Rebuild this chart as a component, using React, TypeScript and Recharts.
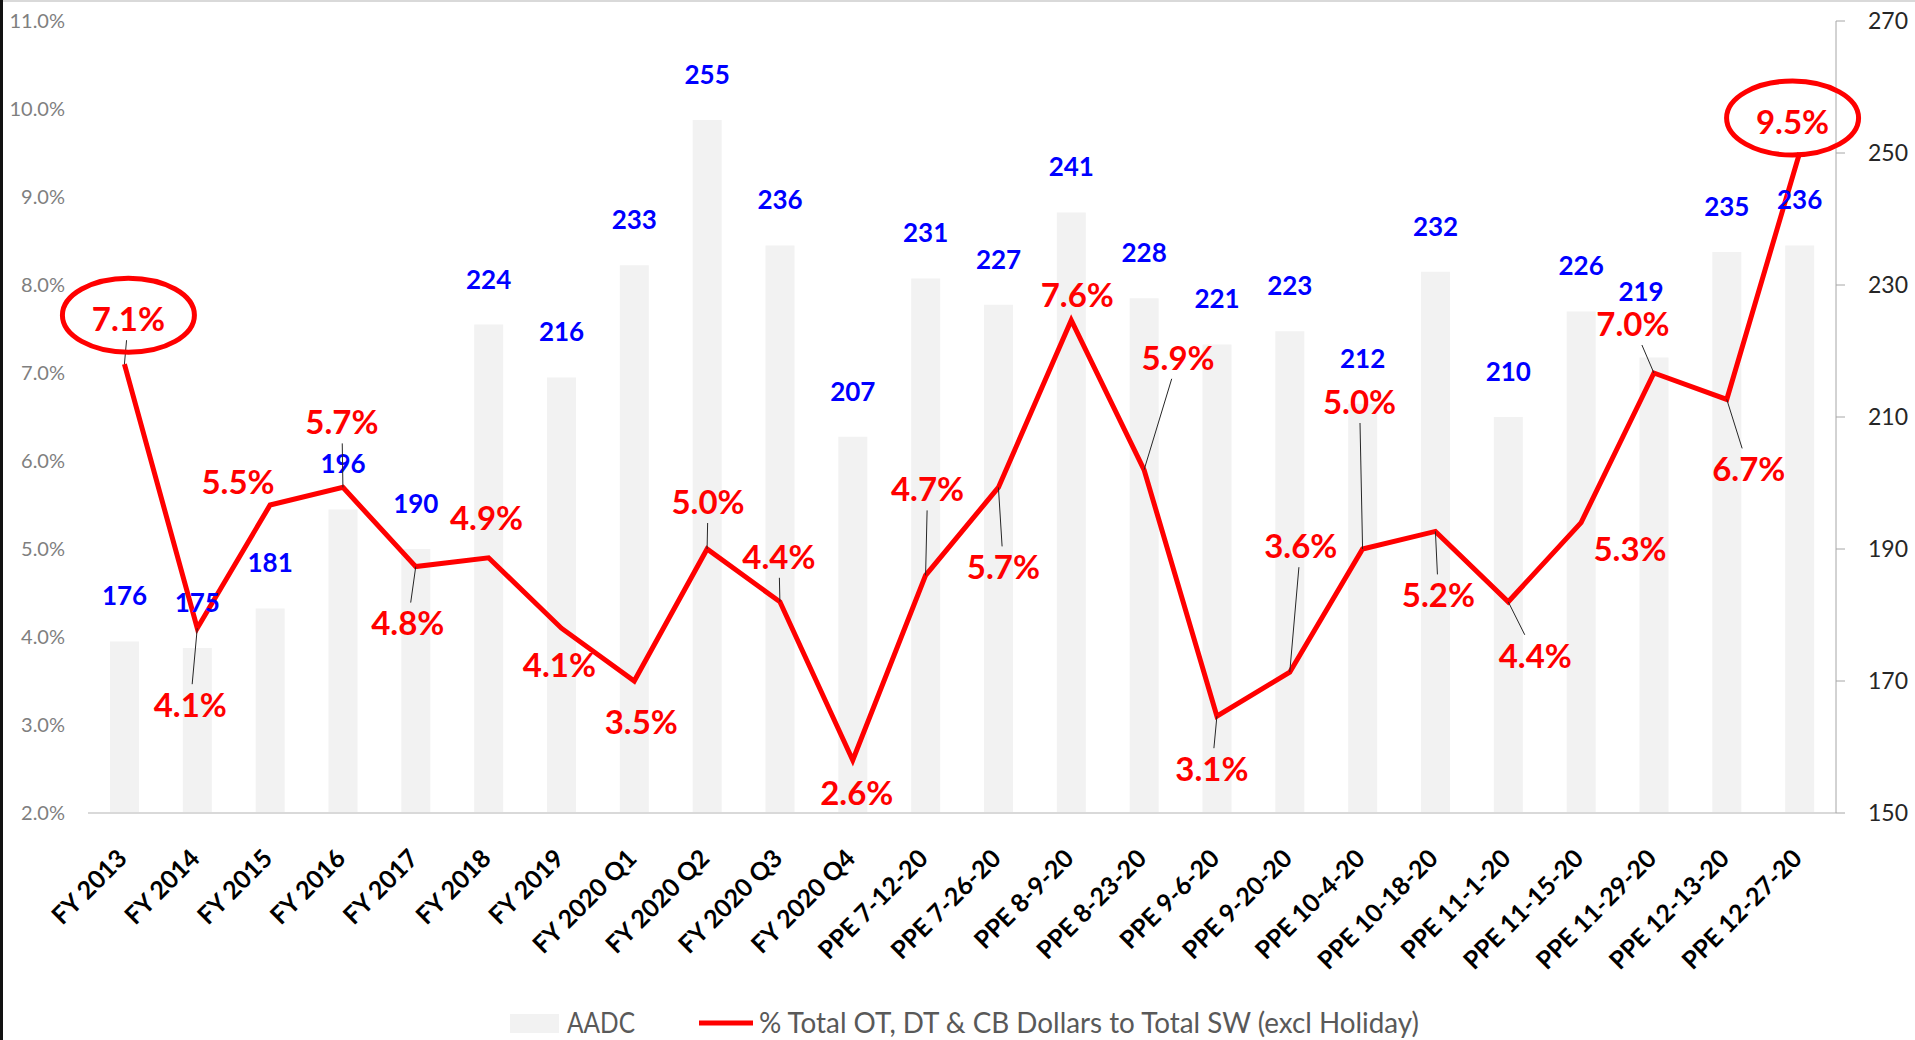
import React from 'react'
import { ComposedChart, Bar, Line, XAxis, YAxis, LabelList, Legend } from 'recharts'

const periods = [
  'FY 2013', 'FY 2014', 'FY 2015', 'FY 2016', 'FY 2017', 'FY 2018', 'FY 2019',
  'FY 2020 Q1', 'FY 2020 Q2', 'FY 2020 Q3', 'FY 2020 Q4',
  'PPE 7-12-20', 'PPE 7-26-20', 'PPE 8-9-20', 'PPE 8-23-20', 'PPE 9-6-20', 'PPE 9-20-20',
  'PPE 10-4-20', 'PPE 10-18-20', 'PPE 11-1-20', 'PPE 11-15-20', 'PPE 11-29-20',
  'PPE 12-13-20', 'PPE 12-27-20',
]
const aadc = [176, 175, 181, 196, 190, 224, 216, 233, 255, 236, 207, 231, 227, 241, 228, 221, 223, 212, 232, 210, 226, 219, 235, 236]
const otPct = [7.1, 4.1, 5.5, 5.7, 4.8, 4.9, 4.1, 3.5, 5.0, 4.4, 2.6, 4.7, 5.7, 7.6, 5.9, 3.1, 3.6, 5.0, 5.2, 4.4, 5.3, 7.0, 6.7, 9.5]
const pctTicks = [2, 3, 4, 5, 6, 7, 8, 9, 10, 11]
const aadcTicks = [150, 170, 190, 210, 230, 250, 270]
const circled = [0, 23]

// where each % label was dragged to (relative to its point), and which ones got a leader line
const pctLabelOffsets = [
  [4, -45], [-7, 77], [-32, -23], [-1, -65], [-8, 57], [-2, -40], [-2, 37], [7, 41],
  [1, -47], [-1, -45], [4, 33], [2, -86], [5, 80], [6, -25], [34, -112], [-5, 53],
  [11, -126], [-3, -147], [3, 64], [27, 54], [49, 27], [-21, -49], [22, 70], [-7, -31],
]
const pctLeaders = [
  true, true, false, true, true, false, false, false, true, true, false, true,
  true, false, true, true, true, true, true, true, false, true, true, false,
]
// AADC labels that were nudged off their default spot
const aadcLabelShift: Record<number, [number, number]> = { 21: [-13, -21] }

const data = periods.map((period, i) => ({ period, aadc: aadc[i], pct: otPct[i], i }))

const PctLabel = (props: any) => {
  const { x, y, value } = props
  const idx = value as number
  const [dx, dy] = pctLabelOffsets[idx]
  const cx = x + dx
  const cy = y + dy
  let leader = null
  if (pctLeaders[idx]) {
    const hw = 40
    const hh = 21
    const vx = cx - x
    const vy = cy - y
    const tx = vx !== 0 ? hw / Math.abs(vx) : Infinity
    const ty = vy !== 0 ? hh / Math.abs(vy) : Infinity
    const t = Math.min(tx, ty, 1)
    leader = <line x1={x} y1={y} x2={cx - vx * t} y2={cy - vy * t} stroke="#262626" strokeWidth={1} />
  }
  return (
    <g>
      {leader}
      {circled.includes(idx) && (
        <ellipse cx={cx} cy={cy - 4} rx={66} ry={37} fill="none" stroke="#ff0000" strokeWidth={5} />
      )}
      <text x={cx} y={cy} dy="0.36em" textAnchor="middle" fill="#ff0000"
        style={{ fontFamily: 'Lato', fontWeight: 700, fontSize: 33 }}>
        {otPct[idx].toFixed(1)}%
      </text>
    </g>
  )
}

const AadcLabel = (props: any) => {
  const { x, y, width, value, index } = props
  const [sx, sy] = aadcLabelShift[index] ?? [0, 0]
  return (
    <text x={x + width / 2 + sx} y={y - 36 + sy} textAnchor="middle" fill="#0000ff"
      style={{ fontFamily: 'Lato', fontWeight: 700, fontSize: 26 }}>
      {value}
    </text>
  )
}

const PeriodTick = (props: any) => {
  const { x, y, payload } = props
  return (
    <text transform={`translate(${x + 4},${y + 47}) rotate(-45)`} textAnchor="end" fill="#000"
      style={{ fontFamily: 'Lato', fontWeight: 700, fontSize: 25 }}>
      {payload.value}
    </text>
  )
}

const LegendBox = () => (
  <svg width={1915} height={60} style={{ display: 'block' }}>
    <rect x={510} y={34} width={49} height={19} fill="#f2f2f2" />
    <text x={567} y={53} textLength={68} lengthAdjust="spacingAndGlyphs" fill="#595959"
      style={{ fontFamily: 'Lato', fontSize: 29 }}>AADC</text>
    <line x1={699} x2={753} y1={43} y2={43} stroke="#ff0000" strokeWidth={5} />
    <text x={759} y={53} textLength={660} lengthAdjust="spacingAndGlyphs" fill="#595959"
      style={{ fontFamily: 'Lato', fontSize: 29 }}>% Total OT, DT &amp; CB Dollars to Total SW (excl Holiday)</text>
  </svg>
)

export default function App() {
  return (
    <div style={{ position: 'absolute', left: 0, top: 0, width: 1915, height: 1040, background: '#fff', overflow: 'hidden' }}>
      <div style={{ position: 'absolute', left: 0, top: 0, width: 1915, height: 2, background: '#d9d9d9' }} />
      <div style={{ position: 'absolute', left: 0, top: 0, width: 3, height: 1040, background: '#111' }} />
      <ComposedChart width={1915} height={1040} data={data} margin={{ top: 21, right: 0, left: 8, bottom: 0 }}>
        <XAxis dataKey="period" interval={0} height={167} tickSize={0} tickMargin={0}
          axisLine={{ stroke: '#d9d9d9', strokeWidth: 2 }} tickLine={false} tick={<PeriodTick />} />
        <YAxis yAxisId="pct" domain={[2, 11]} ticks={pctTicks} width={80} axisLine={false} tickLine={false}
          tickSize={0} tickMargin={23} tickFormatter={(v: number) => `${v.toFixed(1)}%`}
          tick={{ fill: '#7f7f7f', fontFamily: 'Lato', fontSize: 20 }} />
        <YAxis yAxisId="aadc" orientation="right" domain={[150, 270]} ticks={aadcTicks} width={79}
          axisLine={{ stroke: '#a6a6a6' }} tickLine={{ stroke: '#a6a6a6' }} tickSize={9} tickMargin={23}
          tick={{ fill: '#262626', fontFamily: 'Lato', fontSize: 23 }} />
        <Legend verticalAlign="bottom" height={60} wrapperStyle={{ left: 0, width: 1915 }} content={<LegendBox />} />
        <Bar yAxisId="aadc" dataKey="aadc" name="AADC" fill="#f2f2f2" barSize={29} isAnimationActive={false}>
          <LabelList dataKey="aadc" content={<AadcLabel />} />
        </Bar>
        <Line yAxisId="pct" dataKey="pct" name="% Total OT, DT & CB Dollars to Total SW (excl Holiday)"
          stroke="#ff0000" strokeWidth={5} dot={false} isAnimationActive={false}>
          <LabelList dataKey="i" content={<PctLabel />} />
        </Line>
      </ComposedChart>
    </div>
  )
}
